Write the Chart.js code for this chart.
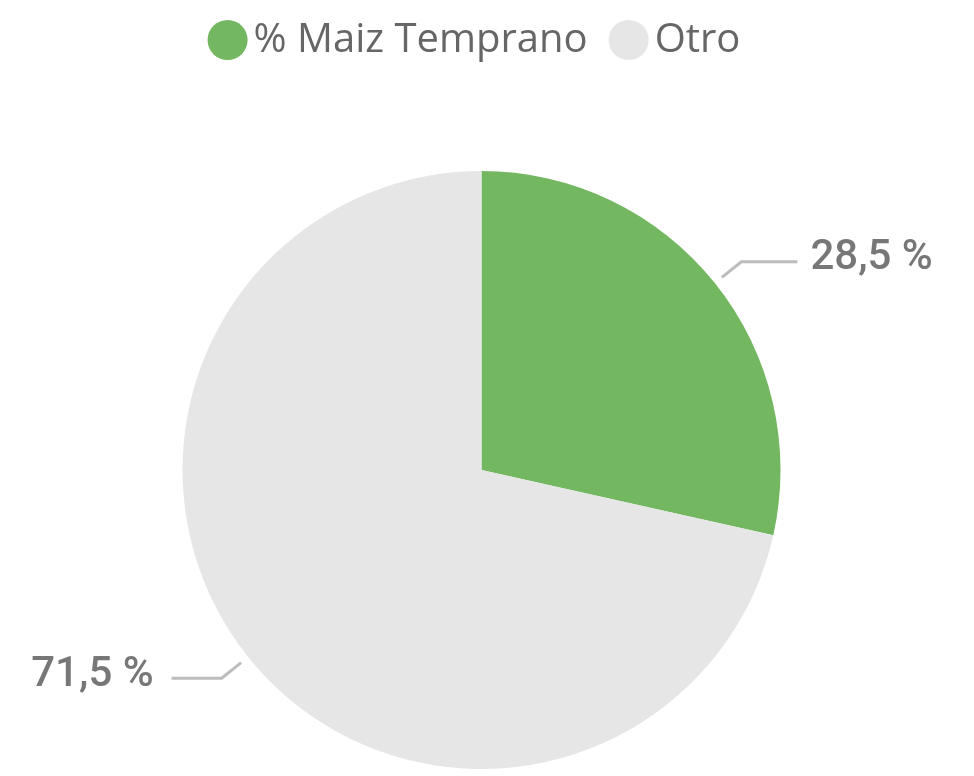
<!DOCTYPE html>
<html>
<head>
<meta charset="utf-8">
<script src="https://cdn.jsdelivr.net/npm/chart.js@4/dist/chart.umd.min.js"></script>
<style>
html,body{margin:0;padding:0;background:#fff;}
#wrap{width:974px;height:776px;position:relative;}
</style>
</head>
<body>
<div id="wrap"><canvas id="c" width="974" height="776"></canvas></div>
<script>
const categories = ["% Maiz Temprano", "Otro"];
const values = [28.5, 71.5];
const valueLabels = ["28,5 %", "71,5 %"];
const colors = ["#73B761", "#E6E6E6"];

const legendPlugin = {
  id: 'customLegend',
  afterDraw(chart) {
    const ctx = chart.ctx;
    ctx.save();
    ctx.font = "40px 'Open Sans'";
    const r = 20, gapText = 6, gapItem = 21;
    const widths = categories.map(t => ctx.measureText(t).width);
    let total = 0;
    widths.forEach((w, i) => { total += 2 * r + gapText + w + (i < widths.length - 1 ? gapItem : 0); });
    let x = 474 - total / 2;
    const cy = 40;
    categories.forEach((t, i) => {
      ctx.fillStyle = colors[i];
      ctx.beginPath();
      ctx.arc(x + r, cy, r, 0, Math.PI * 2);
      ctx.fill();
      x += 2 * r + gapText;
      ctx.fillStyle = '#666666';
      ctx.textAlign = 'left';
      ctx.textBaseline = 'alphabetic';
      ctx.fillText(t, x, 52);
      x += widths[i] + gapItem;
    });
    ctx.restore();
  }
};

const leaderPlugin = {
  id: 'leaders',
  afterDatasetsDraw(chart) {
    const ctx = chart.ctx;
    const meta = chart.getDatasetMeta(0);
    ctx.save();
    meta.data.forEach((arc, i) => {
      const p = arc.getProps(['x','y','startAngle','endAngle','outerRadius'], true);
      const mid = (p.startAngle + p.endAngle) / 2;
      const cos = Math.cos(mid), sin = Math.sin(mid);
      const r0 = p.outerRadius + 9, r1 = p.outerRadius + 34;
      const x0 = p.x + cos * r0, y0 = p.y + sin * r0;
      const x1 = p.x + cos * r1, y1 = p.y + sin * r1;
      const right = cos >= 0;
      const x2 = right ? x1 + 56 : x1 - 50;
      ctx.strokeStyle = '#BDBDBD';
      ctx.lineWidth = 3;
      ctx.lineJoin = 'round';
      ctx.beginPath();
      ctx.moveTo(x0, y0); ctx.lineTo(x1, y1); ctx.lineTo(x2, y1);
      ctx.stroke();
      ctx.fillStyle = '#777777';
      ctx.font = '500 42px Roboto';
      ctx.textBaseline = 'middle';
      ctx.textAlign = right ? 'left' : 'right';
      ctx.fillText(valueLabels[i], right ? x2 + 13 : x2 - 18, y1 - 3);
    });
    ctx.restore();
  }
};

new Chart(document.getElementById('c'), {
  type: 'pie',
  data: {
    labels: categories,
    datasets: [{
      data: values,
      backgroundColor: colors,
      borderWidth: 0,
      hoverOffset: 0
    }]
  },
  options: {
    responsive: false,
    animation: false,
    layout: { padding: { top: 171, bottom: 7, left: 100, right: 111 } },
    plugins: {
      tooltip: { enabled: false },
      legend: { display: false }
    }
  },
  plugins: [leaderPlugin, legendPlugin]
});
</script>
</body>
</html>
